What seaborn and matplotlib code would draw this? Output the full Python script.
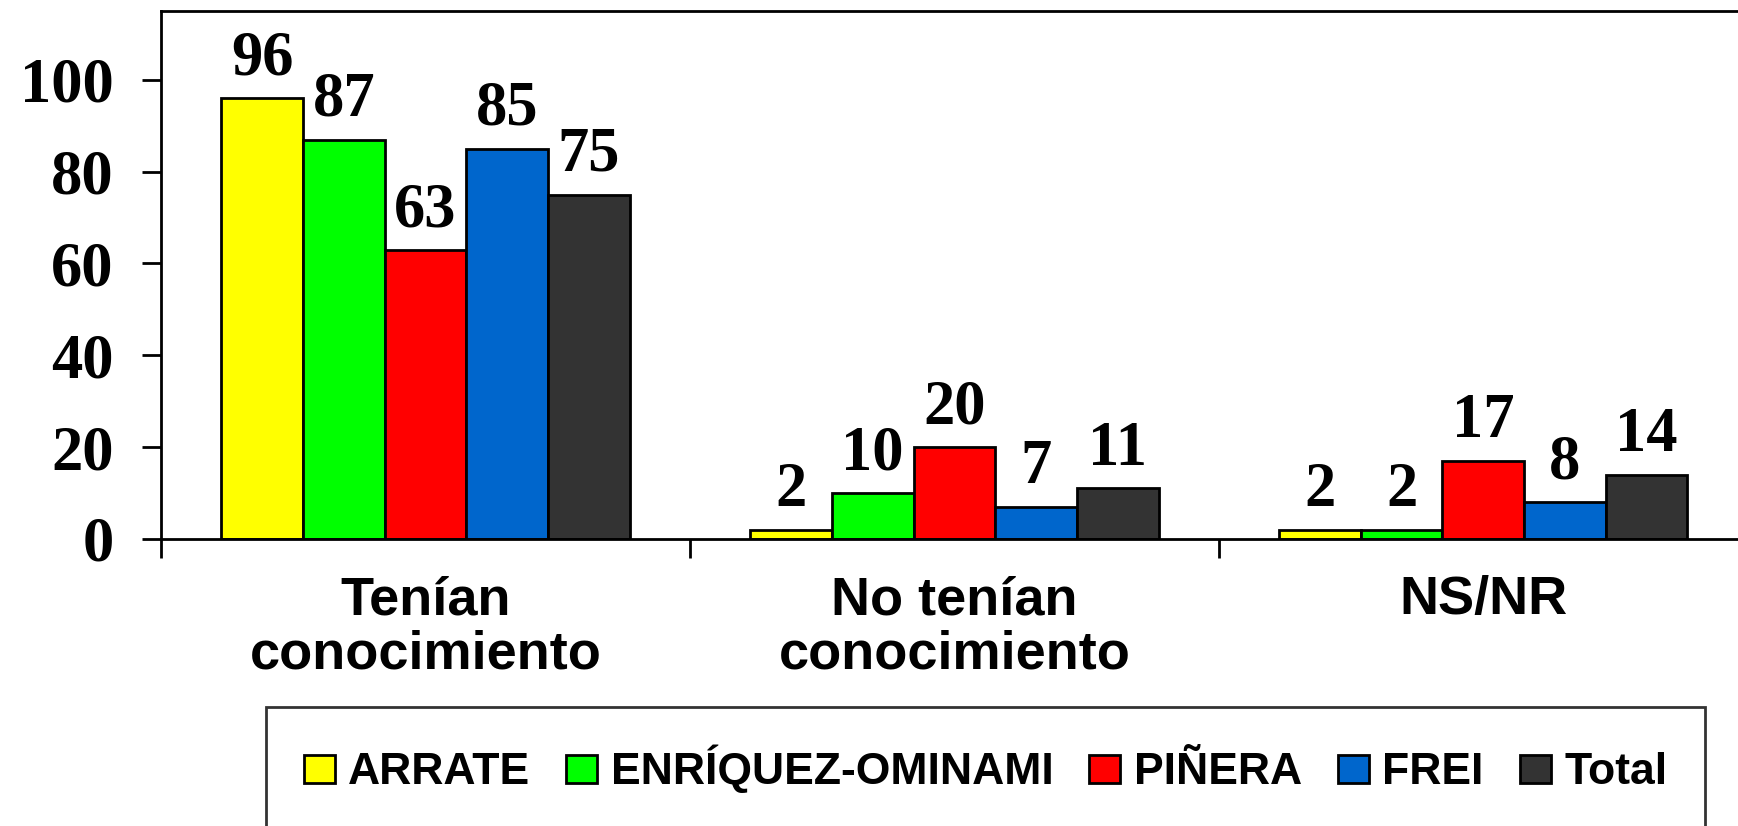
import matplotlib
matplotlib.use('Agg')
import matplotlib.pyplot as plt
import seaborn as sns
import pandas as pd

# Data
categorias = ['Tenían\nconocimiento', 'No tenían\nconocimiento', 'NS/NR']
candidatos = ['ARRATE', 'ENRÍQUEZ-OMINAMI', 'PIÑERA', 'FREI', 'Total']
arrate = [96, 2, 2]
enriquez = [87, 10, 2]
pinera = [63, 20, 17]
frei = [85, 7, 8]
total = [75, 11, 14]
colores = ['#FFFF00', '#00FF00', '#FF0000', '#0066CC', '#333333']

valores = [arrate, enriquez, pinera, frei, total]
rows = []
for cand, vals in zip(candidatos, valores):
    for cat, v in zip(categorias, vals):
        rows.append({'categoria': cat, 'candidato': cand, 'valor': v})
df = pd.DataFrame(rows)

sns.set_style('white')
plt.rcParams['text.color'] = 'black'
plt.rcParams['xtick.color'] = 'black'
plt.rcParams['ytick.color'] = 'black'
plt.rcParams['axes.labelcolor'] = 'black'
serif = 'Liberation Serif'
sans = 'Liberation Sans'

fig = plt.figure(figsize=(17.38, 8.26), dpi=100)
ax = fig.add_axes([0.0926, 0.3475, 0.913, 0.6392])

sns.barplot(data=df, x='categoria', y='valor', hue='candidato',
            order=categorias, hue_order=candidatos, palette=colores,
            edgecolor='black', linewidth=2, width=0.772, gap=0,
            saturation=1, ax=ax, legend=True)

for cont in ax.containers:
    ax.bar_label(cont, padding=7, fontsize=45, fontweight='bold',
                 family=serif, color='black')

ax.set_xlim(-0.5, 2.5)
ax.set_ylim(0, 115)
ax.set_yticks([0, 20, 40, 60, 80, 100])
ax.tick_params(axis='y', length=14, width=2, pad=20, labelsize=45, left=True)
for lbl in ax.get_yticklabels():
    lbl.set_fontfamily(serif)
    lbl.set_fontweight('bold')

ax.set_xticks([0, 1, 2])
ax.set_xticklabels(categorias, fontsize=39, fontweight='bold', family=sans,
                   linespacing=1.12)
ax.tick_params(axis='x', length=0, pad=26)
ax.set_xticks([-0.5, 0.5, 1.5, 2.5], minor=True)
ax.tick_params(axis='x', which='minor', length=14, width=2, bottom=True)

ax.set_xlabel('')
ax.set_ylabel('')
for s in ['left', 'top', 'bottom', 'right']:
    ax.spines[s].set_color('black')
    ax.spines[s].set_linewidth(2)

# legend in its own frame below the axes, running off the bottom edge
handles, labels = ax.get_legend_handles_labels()
ax.get_legend().remove()
leg = fig.legend(handles, labels, loc='upper left', ncol=5, mode='expand',
                 bbox_to_anchor=(0.153, 0.144, 0.828, 0.0), borderaxespad=0,
                 prop={'family': sans, 'weight': 'bold', 'size': 32},
                 handlelength=0.7, handleheight=0.6, handletextpad=0.3,
                 borderpad=0.85, fancybox=False, frameon=True)
leg.get_frame().set_edgecolor('black')
leg.get_frame().set_linewidth(2)

fig.savefig('out.png', dpi=100)
